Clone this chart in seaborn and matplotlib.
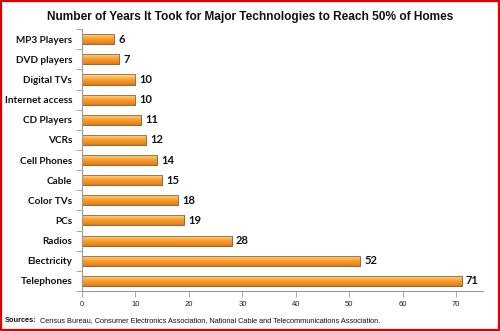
import matplotlib
matplotlib.use("Agg")
import matplotlib.pyplot as plt
import seaborn as sns
import numpy as np
import pandas as pd
from matplotlib.colors import LinearSegmentedColormap
from matplotlib.patches import Rectangle

categories = ["MP3 Players", "DVD players", "Digital TVs", "Internet access", "CD Players",
              "VCRs", "Cell Phones", "Cable", "Color TVs", "PCs", "Radios", "Electricity", "Telephones"]
years = [6, 7, 10, 10, 11, 12, 14, 15, 18, 19, 28, 52, 71]
xticks = [0, 10, 20, 30, 40, 50, 60, 70]
title = "Number of Years It Took for Major Technologies to Reach 50% of Homes"
source_bold = "Sources:"
source_text = "Census Bureau, Consumer Electronics Association, National Cable and Telecommunications Association."

sns.set_theme(style="white")
plt.rcParams['font.family'] = ['Liberation Sans', 'DejaVu Sans']

df = pd.DataFrame({"tech": categories, "years": years})

fig = plt.figure(figsize=(5.0, 3.31), dpi=100)
ax = fig.add_axes([0.164, 0.121, 0.802, 0.791])

sns.barplot(data=df, y="tech", x="years", order=categories, orient="h",
            color="#F7941D", width=0.5, ax=ax, edgecolor="#8C6A4A", linewidth=0.6,
            saturation=1)

cmap = LinearSegmentedColormap.from_list("bar", ["#FCE39A", "#FBC060", "#F8A035", "#F28E22", "#E47A12"])
grad = np.linspace(0, 1, 64).reshape(-1, 1)
for p in list(ax.patches):
    x0, y0 = p.get_x(), p.get_y()
    w, h = p.get_width(), p.get_height()
    ytop, ybot = min(y0, y0 + h), max(y0, y0 + h)
    im = ax.imshow(grad, cmap=cmap, aspect="auto", extent=(x0, x0 + w, ybot, ytop),
                   origin="upper", zorder=p.get_zorder() + 0.1, interpolation="bilinear")
    im.set_clip_path(p)
    edge = Rectangle((x0, y0), w, h, fill=False, edgecolor="#8C6A4A", linewidth=0.6,
                     zorder=p.get_zorder() + 0.2)
    ax.add_patch(edge)

for i, v in enumerate(years):
    ax.text(v + 0.8, i, str(v), va="center", ha="left", fontsize=8,
            fontweight="bold", color="#111111", family=["Lato", "DejaVu Sans"])

ax.set_xlim(0, 75)
ax.set_ylim(len(categories) - 0.5, -0.5)
ax.set_xticks(xticks)
ax.set_xticklabels([str(t) for t in xticks], fontsize=5.5, color="#222222")
ax.set_xlabel("")
ax.set_ylabel("")
ax.set_yticks(range(len(categories)))
ax.set_yticklabels(categories, fontsize=7.2, fontweight="bold", color="#111111",
                   family=["Lato", "DejaVu Sans"])
ax.set_yticks(np.arange(-0.5, len(categories), 1.0), minor=True)
ax.tick_params(axis="y", which="major", length=0, pad=7)
ax.tick_params(axis="y", which="minor", length=4, width=0.6, color="#999999", left=True)
ax.tick_params(axis="x", which="major", length=4, width=0.6, color="#999999", bottom=True, pad=3)

for s in ["top", "right"]:
    ax.spines[s].set_visible(False)
for s in ["left", "bottom"]:
    ax.spines[s].set_color("#999999")
    ax.spines[s].set_linewidth(0.8)

fig.text(0.5, 0.948, title, ha="center", va="center", fontsize=8.6, fontweight="bold", color="#111111")
t1 = fig.text(0.010, 0.033, source_bold, ha="left", va="center", fontsize=5.3, fontweight="bold", color="#111111")
fig.canvas.draw()
bb = t1.get_window_extent()
fig.text(bb.x1 / fig.bbox.width + 0.006, 0.033, source_text, ha="left", va="center",
         fontsize=5.3, color="#111111")

fig.patches.append(Rectangle((0.002, 0.003), 0.996, 0.994, transform=fig.transFigure,
                             fill=False, edgecolor="#E00000", linewidth=1.6))

fig.savefig("out.png", dpi=100)
